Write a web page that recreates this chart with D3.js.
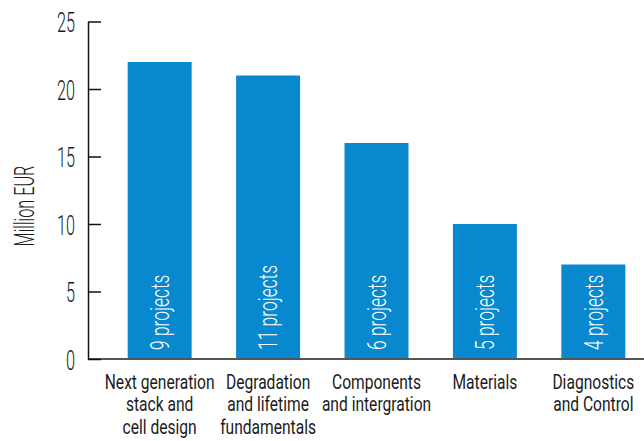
<!DOCTYPE html>
<html>
<head>
<meta charset="utf-8">
<script src="https://cdn.jsdelivr.net/npm/d3@7"></script>
<style>
  html, body { margin: 0; padding: 0; background: #fff; }
  svg { display: block; font-family: Roboto, "Liberation Sans", sans-serif; }
</style>
</head>
<body>
<svg id="chart" width="644" height="441"></svg>
<script>
// Funding per research area (million EUR) and number of projects
const categories = [
  ["Next generation", "stack and", "cell design"],
  ["Degradation", "and lifetime", "fundamentals"],
  ["Components", "and intergration"],
  ["Materials"],
  ["Diagnostics", "and Control"]
];
const funding = [22, 21, 16, 10, 7];
const projectLabels = ["9 projects", "11 projects", "6 projects", "5 projects", "4 projects"];
const yTicks = [0, 5, 10, 15, 20, 25];
const yTitle = "Million EUR";

const svg = d3.select("#chart");
const W = 644;
const axisX = 88;
const barColor = "#0788cf";
const textColor = "#1b1b1b";

const x = d3.scaleBand()
  .domain(d3.range(funding.length))
  .range([106, 647])
  .paddingInner(0.41)
  .paddingOuter(0.2);

const y = d3.scaleLinear().domain([0, 25]).range([359, 21.5]);

// Bars
svg.append("g").selectAll("rect")
  .data(funding)
  .join("rect")
  .attr("x", (d, i) => x(i))
  .attr("width", x.bandwidth())
  .attr("y", d => y(d))
  .attr("height", d => y(0) - y(d))
  .attr("fill", barColor);

// Project counts inside the bars, written upwards
svg.append("g").selectAll("text")
  .data(projectLabels)
  .join("text")
  .attr("transform", (d, i) => `translate(${x(i) + x.bandwidth() / 2},${y(0) - 9}) rotate(-90) scale(0.67,1)`)
  .attr("dy", "0.36em")
  .attr("fill", "#fff")
  .attr("font-size", 26)
  .attr("font-weight", 300)
  .text(d => d);

// Baseline across the plot
svg.append("line")
  .attr("x1", axisX).attr("x2", W)
  .attr("y1", y(0)).attr("y2", y(0))
  .attr("stroke", "#555")
  .attr("stroke-width", 2);

// Y axis with inward ticks
const yAxis = svg.append("g")
  .attr("transform", `translate(${axisX},0)`)
  .call(d3.axisLeft(y).tickValues(yTicks).tickSize(-13).tickSizeOuter(0).tickPadding(13));
yAxis.select(".domain").attr("stroke", "#111").attr("stroke-width", 1.5);
yAxis.selectAll(".tick line").attr("stroke", "#111").attr("stroke-width", 1.5);
yAxis.selectAll(".tick text")
  .attr("x", 0)
  .attr("dy", "0.36em")
  .attr("transform", "translate(-13,0) scale(0.58,1)")
  .attr("fill", textColor)
  .attr("font-family", "Roboto, sans-serif")
  .attr("font-weight", 300)
  .attr("font-size", 28);

// Y axis title
svg.append("text")
  .attr("transform", "translate(24,206) rotate(-90) scale(0.58,1)")
  .attr("text-anchor", "middle")
  .attr("dy", "0.36em")
  .attr("fill", textColor)
  .attr("font-size", 28)
  .attr("font-weight", 300)
  .text(yTitle);

// Category labels under the bars
const catG = svg.append("g").selectAll("g")
  .data(categories)
  .join("g")
  .attr("transform", (d, i) => `translate(${x(i) + x.bandwidth() / 2},389) scale(0.78,1)`);
catG.append("text")
  .attr("text-anchor", "middle")
  .attr("fill", textColor)
  .attr("font-size", 20)
  .selectAll("tspan")
  .data(d => d)
  .join("tspan")
  .attr("x", 0)
  .attr("y", (d, j) => j * 22.5)
  .text(d => d);
</script>
</body>
</html>
